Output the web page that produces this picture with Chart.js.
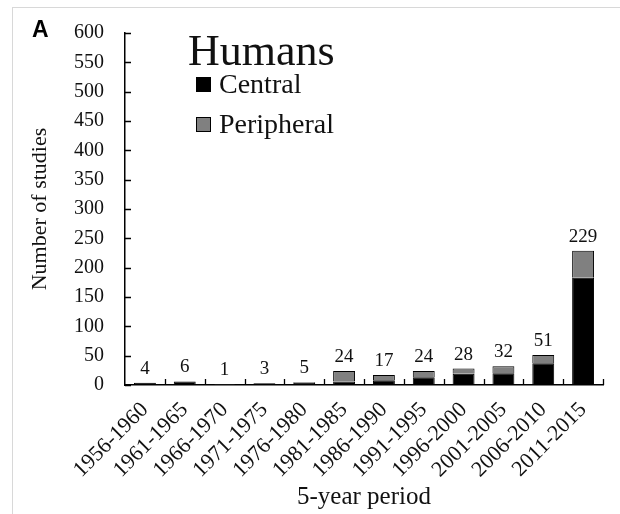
<!DOCTYPE html>
<html>
<head>
<meta charset="utf-8">
<script src="https://cdn.jsdelivr.net/npm/chart.js@4/dist/chart.umd.min.js"></script>
<style>
  body { margin: 0; background: #fff; }
  #wrap { position: relative; width: 620px; height: 514px; overflow: hidden; }
  #frame { position: absolute; left: 12px; top: 7px; right: -5px; bottom: -5px; border-left: 1px solid #d8d8d8; border-top: 1px solid #d8d8d8; }
  #panel { position: absolute; left: 32px; top: 16px; line-height: 1; font: bold 23px "Liberation Sans", Arial, sans-serif; }
  canvas { position: absolute; left: 0; top: 0; }
</style>
</head>
<body>
<div id="wrap">
  <div id="frame"></div>
  <canvas id="myChart" width="620" height="514"></canvas>
  <div id="panel">A</div>
</div>
<script>
'use strict'
// values
const periods = ['1956-1960', '1961-1965', '1966-1970', '1971-1975', '1976-1980', '1981-1985',
                 '1986-1990', '1991-1995', '1996-2000', '2001-2005', '2006-2010', '2011-2015'];
const central = [4, 6, 0, 3, 4, 6, 8, 13, 19, 20, 37, 183];
const peripheral = [0, 0, 1, 0, 1, 18, 9, 11, 9, 12, 14, 46];
const totals = [4, 6, 1, 3, 5, 24, 17, 24, 28, 32, 51, 229];
const yTicks = [0, 50, 100, 150, 200, 250, 300, 350, 400, 450, 500, 550, 600];

const serif = '"Liberation Serif", "DejaVu Serif", serif';

// totals above each bar
const totalsPlugin = {
    id: 'totals',
    afterDatasetsDraw(chart){
        const ctx = chart.ctx;
        const meta = chart.getDatasetMeta(1);
        ctx.save();
        ctx.font = '19px ' + serif;
        ctx.fillStyle = '#111';
        ctx.textAlign = 'center';
        ctx.textBaseline = 'alphabetic';
        meta.data.forEach((bar, i) => {
            const y = chart.scales.y.getPixelForValue(totals[i]);
            ctx.fillText(String(totals[i]), bar.x, y - 9);
        });
        ctx.restore();
    }
};

// tick marks on both axes point into the plot
const innerTicks = {
    id: 'innerTicks',
    afterDraw(chart){
        const ctx = chart.ctx;
        const xs = chart.scales.x;
        const ys = chart.scales.y;
        ctx.save();
        ctx.strokeStyle = '#000';
        ctx.lineWidth = 1.3;
        ctx.beginPath();
        yTicks.forEach(v => {
            const y = Math.round(ys.getPixelForValue(v)) + 0.5;
            ctx.moveTo(xs.left, y);
            ctx.lineTo(xs.left + 6, y);
        });
        for (let i = 1; i <= periods.length; i++){
            const x = Math.round(xs.getPixelForValue(i - 0.5)) + 0.5;
            ctx.moveTo(x, ys.bottom);
            ctx.lineTo(x, ys.bottom - 6);
        }
        ctx.stroke();
        ctx.restore();
    }
};

// title and legend sit inside the plot area, top left
const insideLegend = {
    id: 'insideLegend',
    afterDraw(chart){
        const ctx = chart.ctx;
        const x0 = chart.chartArea.left + 63;
        ctx.save();
        ctx.fillStyle = '#111';
        ctx.textBaseline = 'alphabetic';
        ctx.font = '44px ' + serif;
        ctx.fillText('Humans', x0, 65);
        ctx.font = '28px ' + serif;
        chart.data.datasets.forEach((ds, i) => {
            const base = 93 + i * 40;
            ctx.fillStyle = ds.backgroundColor;
            ctx.strokeStyle = '#000';
            ctx.lineWidth = 1;
            ctx.fillRect(x0 + 8, base - 16, 15, 15);
            ctx.strokeRect(x0 + 8.5, base - 15.5, 14, 14);
            ctx.fillStyle = '#111';
            ctx.fillText(ds.label, x0 + 31, base);
        });
        ctx.restore();
    }
};

const config = {
    type: 'bar',
    data: {
        labels: periods,
        datasets: [{
            label: 'Central',
            data: central,
            backgroundColor: '#000000',
            borderColor: '#000000',
            borderWidth: 1,
            barPercentage: 0.55,
            categoryPercentage: 1
        }, {
            label: 'Peripheral',
            data: peripheral,
            backgroundColor: '#808080',
            borderColor: '#000000',
            borderWidth: 1,
            barPercentage: 0.55,
            categoryPercentage: 1
        }]
    },
    options: {
        responsive: false,
        animation: false,
        layout: { padding: { top: 32, right: 17, left: 0, bottom: 0 } },
        plugins: {
            legend: { display: false },
            tooltip: { enabled: false }
        },
        scales: {
            x: {
                stacked: true,
                afterFit(axis){ axis.height = 129; },
                grid: { display: false, drawTicks: false },
                border: { color: '#000', width: 1.5 },
                ticks: { color: '#111', font: { family: serif, size: 22 }, autoSkip: false, minRotation: 45, maxRotation: 45, padding: 12 },
                title: { display: true, text: '5-year period', color: '#111', font: { family: serif, size: 25 }, padding: { top: 0, bottom: 2 } }
            },
            y: {
                stacked: true,
                min: 0,
                max: 600,
                afterFit(axis){ axis.width = 125; },
                afterBuildTicks(axis){ axis.ticks = yTicks.map(v => ({ value: v })); },
                grid: { display: false, drawTicks: false },
                border: { color: '#000', width: 1.5 },
                ticks: { color: '#111', font: { family: serif, size: 20 }, padding: 21 },
                title: { display: true, text: 'Number of studies', color: '#111', font: { family: serif, size: 22 }, padding: { top: 27, bottom: 0 } }
            }
        }
    },
    plugins: [totalsPlugin, innerTicks, insideLegend]
};

let myChart = new Chart(document.getElementById('myChart'), config);
</script>
</body>
</html>
